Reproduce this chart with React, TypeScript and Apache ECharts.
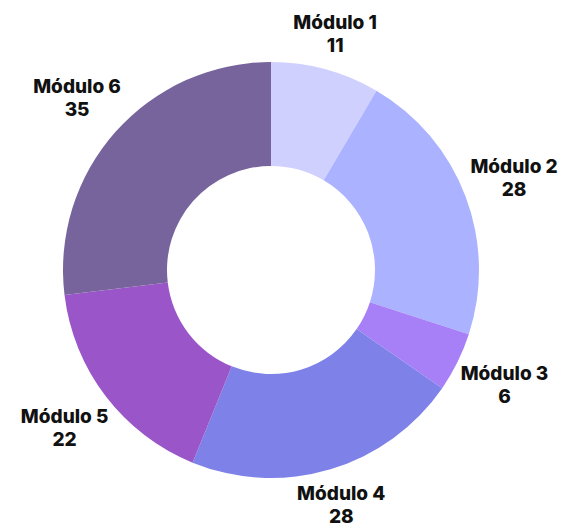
import React, { useEffect, useRef } from "react";
import * as echarts from "echarts";

const categories = ["Módulo 1", "Módulo 2", "Módulo 3", "Módulo 4", "Módulo 5", "Módulo 6"];
const values = [11, 28, 6, 28, 22, 35];
const colors = ["#d0d0ff", "#abb2ff", "#a77ff6", "#7e82e8", "#9a56c9", "#77649c"];

const CX = 271;
const CY = 270;
const R_OUT = 208;
const R_IN = 104;

export default function App() {
  const ref = useRef<HTMLDivElement>(null);
  useEffect(() => {
    if (!ref.current) return;
    const chart = echarts.init(ref.current, null, { renderer: "svg" });
    const total = values.reduce((a, b) => a + b, 0);
    const mids: number[] = [];
    let acc = 0;
    for (const v of values) {
      mids.push(((acc + v / 2) / total) * Math.PI * 2);
      acc += v;
    }
    chart.setOption({
      animation: false,
      backgroundColor: "#ffffff",
      series: [
        {
          type: "pie",
          center: [CX, CY],
          radius: [R_IN, R_OUT],
          startAngle: 90,
          clockwise: true,
          avoidLabelOverlap: false,
          data: categories.map((c, i) => ({
            name: c,
            value: values[i],
            itemStyle: { color: colors[i] },
          })),
          label: {
            show: true,
            position: "outside",
            formatter: "{b}\n{c}",
            color: "#111111",
            fontFamily: "Inter",
            fontWeight: 800,
            fontSize: 19,
            lineHeight: 23,
            align: "center",
            overflow: "none",
          },
          labelLine: { show: false },
          labelLayout: (params: any) => {
            const th = mids[params.dataIndex];
            const s = Math.sin(th);
            const c = Math.cos(th);
            const hw = params.labelRect.width / 2;
            const hh = params.labelRect.height / 2;
            const r = R_OUT + 3 + hw * Math.abs(s) + hh * Math.abs(c);
            return {
              x: CX + r * s,
              y: CY - r * c,
              align: "center",
              verticalAlign: "middle",
            };
          },
        },
      ],
    });
    return () => chart.dispose();
  }, []);
  return (
    <div
      ref={ref}
      style={{ position: "fixed", left: 0, top: 0, width: 565, height: 529 }}
    />
  );
}
